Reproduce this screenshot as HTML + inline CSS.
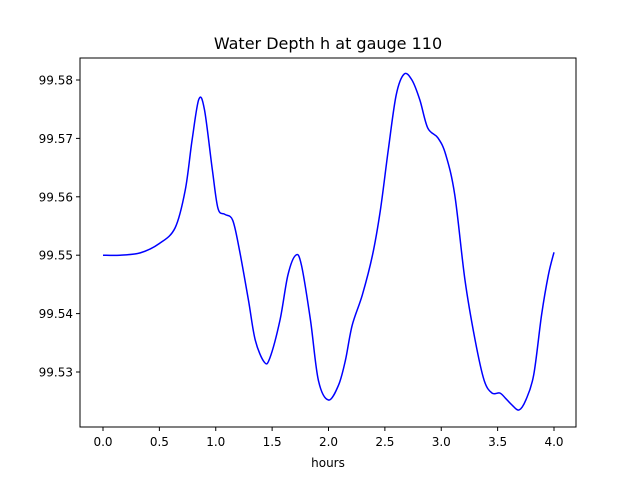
<!DOCTYPE html>
<html><head><meta charset="utf-8"><style>
body{margin:0;background:#fff;}
svg text{font-family:"DejaVu Sans","Liberation Sans",sans-serif;}
</style></head><body>
<svg width="640" height="480" id="chart">
<rect width="640" height="480" fill="#fff"/>
<text x="328" y="49" font-size="16" text-anchor="middle">Water Depth h at gauge 110</text>
<g id="xt"></g>
<g id="yt"></g>
<path id="line" fill="none" stroke="#0000ff" stroke-width="1.5"/>
<rect x="80" y="58" width="496" height="369" fill="none" stroke="#000" stroke-width="1"/>
<text x="328" y="467" font-size="12" text-anchor="middle">hours</text>
</svg>
<script>
const hours=[0,0.15,0.33,0.5,0.64,0.73,0.79,0.85,0.9,0.97,1.02,1.08,1.15,1.21,1.29,1.35,1.43,1.48,1.57,1.64,1.71,1.76,1.84,1.91,2.0,2.09,2.15,2.21,2.30,2.39,2.46,2.53,2.60,2.67,2.74,2.81,2.88,2.97,3.04,3.12,3.21,3.30,3.38,3.45,3.52,3.57,3.63,3.69,3.75,3.82,3.89,3.95,4.0];
const depth=[99.550,99.550,99.5504,99.552,99.5547,99.5612,99.5697,99.5767,99.5749,99.5646,99.558,99.557,99.556,99.5509,99.5423,99.5355,99.5317,99.5324,99.5389,99.5466,99.550,99.5483,99.5389,99.5286,99.5252,99.5278,99.532,99.538,99.5432,99.550,99.5577,99.568,99.5774,99.581,99.580,99.5766,99.5718,99.5701,99.5672,99.5603,99.5458,99.5355,99.5286,99.5264,99.5264,99.5255,99.5243,99.5235,99.5252,99.5295,99.5398,99.5466,99.5505];
const xTicks=[0,0.5,1,1.5,2,2.5,3,3.5,4];
const xLabels=["0.0","0.5","1.0","1.5","2.0","2.5","3.0","3.5","4.0"];
const yTicks=[99.53,99.54,99.55,99.56,99.57,99.58];
const yLabels=["99.53","99.54","99.55","99.56","99.57","99.58"];
const X=t=>103+t*112.75;
const Y=v=>372-(v-99.53)*5840;
const NS="http://www.w3.org/2000/svg";
const xt=document.getElementById('xt'),yt=document.getElementById('yt');
xTicks.forEach((t,i)=>{
 const l=document.createElementNS(NS,'line');
 l.setAttribute('x1',X(t));l.setAttribute('x2',X(t));l.setAttribute('y1',427);l.setAttribute('y2',431);l.setAttribute('stroke','#000');
 
 
 xt.appendChild(l);
 const tx=document.createElementNS(NS,'text');
 tx.setAttribute('x',X(t));tx.setAttribute('y',446);tx.setAttribute('font-size','12');tx.setAttribute('text-anchor','middle');
 tx.textContent=xLabels[i];
 
 
 xt.appendChild(tx);
});
yTicks.forEach((v,i)=>{
 const l=document.createElementNS(NS,'line');
 l.setAttribute('x1',76);l.setAttribute('x2',80);l.setAttribute('y1',Y(v));l.setAttribute('y2',Y(v));l.setAttribute('stroke','#000');
 
 
 yt.appendChild(l);
 const tx=document.createElementNS(NS,'text');
 tx.setAttribute('x',73);tx.setAttribute('y',Y(v)+4.5);tx.setAttribute('font-size','12');tx.setAttribute('text-anchor','end');
 tx.textContent=yLabels[i];
 
 
 yt.appendChild(tx);
});
const P=hours.map((t,i)=>[X(t),Y(depth[i])]);
let d='M'+P[0][0]+','+P[0][1];
for(let i=0;i<P.length-1;i++){
 const p0=P[Math.max(0,i-1)],p1=P[i],p2=P[i+1],p3=P[Math.min(P.length-1,i+2)];
 const c1=[p1[0]+(p2[0]-p0[0])/6,p1[1]+(p2[1]-p0[1])/6];
 const c2=[p2[0]-(p3[0]-p1[0])/6,p2[1]-(p3[1]-p1[1])/6];
 d+=' C'+c1+' '+c2+' '+p2;
}
document.getElementById('line').setAttribute('d',d);
</script>
</body></html>
